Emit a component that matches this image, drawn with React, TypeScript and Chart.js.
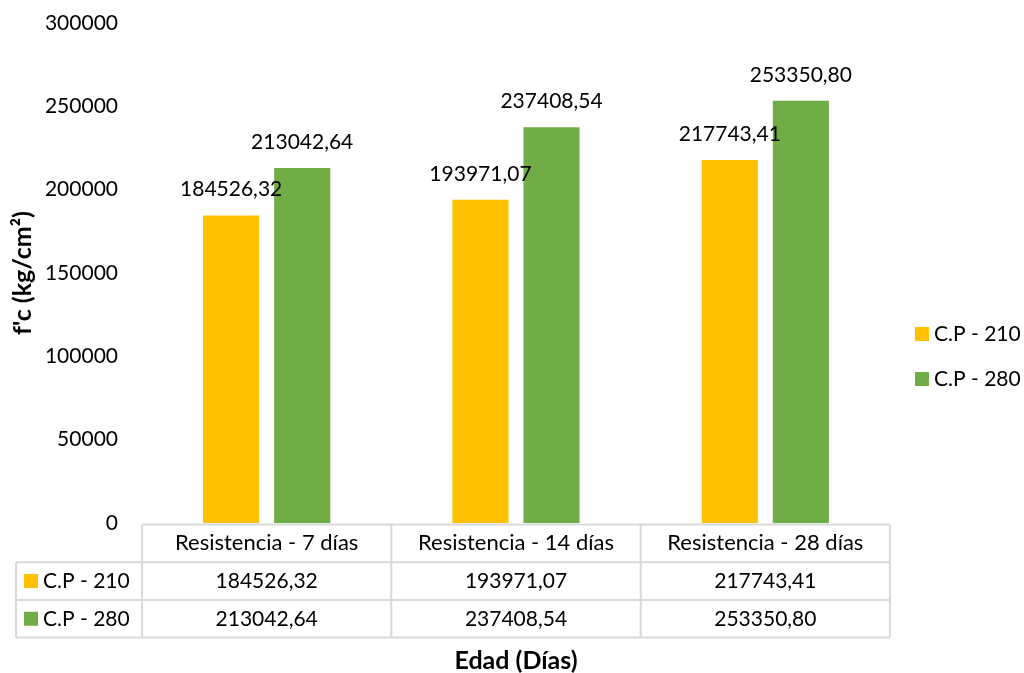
import React, { useEffect, useRef } from "react";
import { Chart, registerables } from "chart.js";

Chart.register(...registerables);

const categories = ["Resistencia - 7 días", "Resistencia - 14 días", "Resistencia - 28 días"];
const seriesNames = ["C.P - 210", "C.P - 280"];
const cp210 = [184526.32, 193971.07, 217743.41];
const cp280 = [213042.64, 237408.54, 253350.8];
const seriesColors = ["#FFC000", "#70AD47"];
const yMin = 0;
const yMax = 300000;
const yStep = 50000;
const yTitle = "f'c (kg/cm²)";
const xTitle = "Edad (Días)";

const FONT = "Lato, 'Noto Sans', sans-serif";
const FS = 21;
const TITLE_FS = 25;
const TEXT = "#000000";
const LINE = "#D9D9D9";

const fmt = (v: number) => v.toFixed(2).replace(".", ",");

const overlay = {
  id: "overlay",
  afterDraw(chart: any) {
    const ctx = chart.ctx as CanvasRenderingContext2D;
    const area = chart.chartArea;
    const xs = chart.scales.x;
    const ys = chart.scales.y;
    const seriesData = [cp210, cp280];
    ctx.save();

    // data labels
    ctx.font = `${FS}px ${FONT}`;
    ctx.fillStyle = TEXT;
    ctx.textAlign = "center";
    ctx.textBaseline = "alphabetic";
    chart.data.datasets.forEach((ds: any, di: number) => {
      const meta = chart.getDatasetMeta(di);
      meta.data.forEach((el: any, i: number) => {
        ctx.fillText(fmt(seriesData[di][i]), el.x, el.y - 19);
      });
    });

    // data table
    const zero = ys.getPixelForValue(0);
    const rowH = 37.7;
    const r0 = zero + 1.5;
    const rows = [r0, r0 + rowH, r0 + 2 * rowH, r0 + 3 * rowH];
    const colW = (area.right - area.left) / categories.length;
    const leftEdge = 16;
    ctx.strokeStyle = LINE;
    ctx.lineWidth = 2;
    ctx.beginPath();
    ctx.moveTo(area.left, rows[0]);
    ctx.lineTo(area.right, rows[0]);
    for (let r = 1; r < rows.length; r++) {
      ctx.moveTo(leftEdge, rows[r]);
      ctx.lineTo(area.right, rows[r]);
    }
    for (let c = 0; c <= categories.length; c++) {
      const x = c === categories.length ? area.right : xs.getPixelForValue(c) - colW / 2;
      ctx.moveTo(x, rows[0]);
      ctx.lineTo(x, rows[3]);
    }
    ctx.moveTo(leftEdge, rows[1]);
    ctx.lineTo(leftEdge, rows[3]);
    ctx.stroke();

    ctx.fillStyle = TEXT;
    ctx.textAlign = "center";
    ctx.textBaseline = "middle";
    categories.forEach((c, i) => {
      const cx = xs.getPixelForValue(i);
      ctx.font = `22px ${FONT}`;
      ctx.fillText(c, cx, (rows[0] + rows[1]) / 2);
      ctx.font = `${FS}px ${FONT}`;
      seriesData.forEach((arr, si) => {
        ctx.fillText(fmt(arr[i]), cx, (rows[si + 1] + rows[si + 2]) / 2);
      });
    });
    seriesNames.forEach((n, si) => {
      const cy = (rows[si + 1] + rows[si + 2]) / 2;
      ctx.fillStyle = seriesColors[si];
      ctx.fillRect(24, cy - 7, 14, 14);
      ctx.fillStyle = TEXT;
      ctx.textAlign = "left";
      ctx.fillText(n, 43, cy);
    });

    // legend on right
    const legendY = [334, 379];
    seriesNames.forEach((n, si) => {
      ctx.fillStyle = seriesColors[si];
      ctx.fillRect(915, legendY[si] - 7, 14, 14);
      ctx.fillStyle = TEXT;
      ctx.textAlign = "left";
      ctx.textBaseline = "middle";
      ctx.fillText(n, 934, legendY[si]);
    });

    // axis titles
    ctx.font = `bold ${TITLE_FS}px ${FONT}`;
    ctx.textAlign = "center";
    ctx.textBaseline = "middle";
    ctx.fillText(xTitle, (area.left + area.right) / 2, 661);
    ctx.translate(23, (area.top + area.bottom) / 2);
    ctx.rotate(-Math.PI / 2);
    ctx.fillText(yTitle, 0, 0);
    ctx.restore();
  },
};

export default function App() {
  const ref = useRef<HTMLCanvasElement | null>(null);
  useEffect(() => {
    if (!ref.current) return;
    const chart = new Chart(ref.current, {
      type: "bar",
      data: {
        labels: categories,
        datasets: [
          { label: seriesNames[0], data: cp210, backgroundColor: seriesColors[0] },
          { label: seriesNames[1], data: cp280, backgroundColor: seriesColors[1] },
        ],
      },
      options: {
        responsive: false,
        animation: false,
        events: [],
        datasets: { bar: { categoryPercentage: 0.57, barPercentage: 0.79 } },
        layout: { padding: { left: 0, right: 134, top: 23, bottom: 150 } },
        plugins: { legend: { display: false }, tooltip: { enabled: false } },
        scales: {
          x: { display: false },
          y: {
            min: yMin,
            max: yMax,
            grid: { display: false, drawTicks: false },
            border: { display: false },
            ticks: {
              stepSize: yStep,
              padding: 24,
              color: TEXT,
              font: { family: FONT, size: FS },
              callback: (v: any) => String(v),
            },
            afterFit: (scale: any) => {
              scale.width = 142;
              scale.paddingTop = 0;
              scale.paddingBottom = 0;
            },
          },
        },
      },
      plugins: [overlay],
    });
    return () => chart.destroy();
  }, []);
  return (
    <div style={{ position: "absolute", left: 0, top: 0, width: 1024, height: 673, background: "#fff" }}>
      <canvas ref={ref} width={1024} height={673} style={{ display: "block" }} />
    </div>
  );
}
